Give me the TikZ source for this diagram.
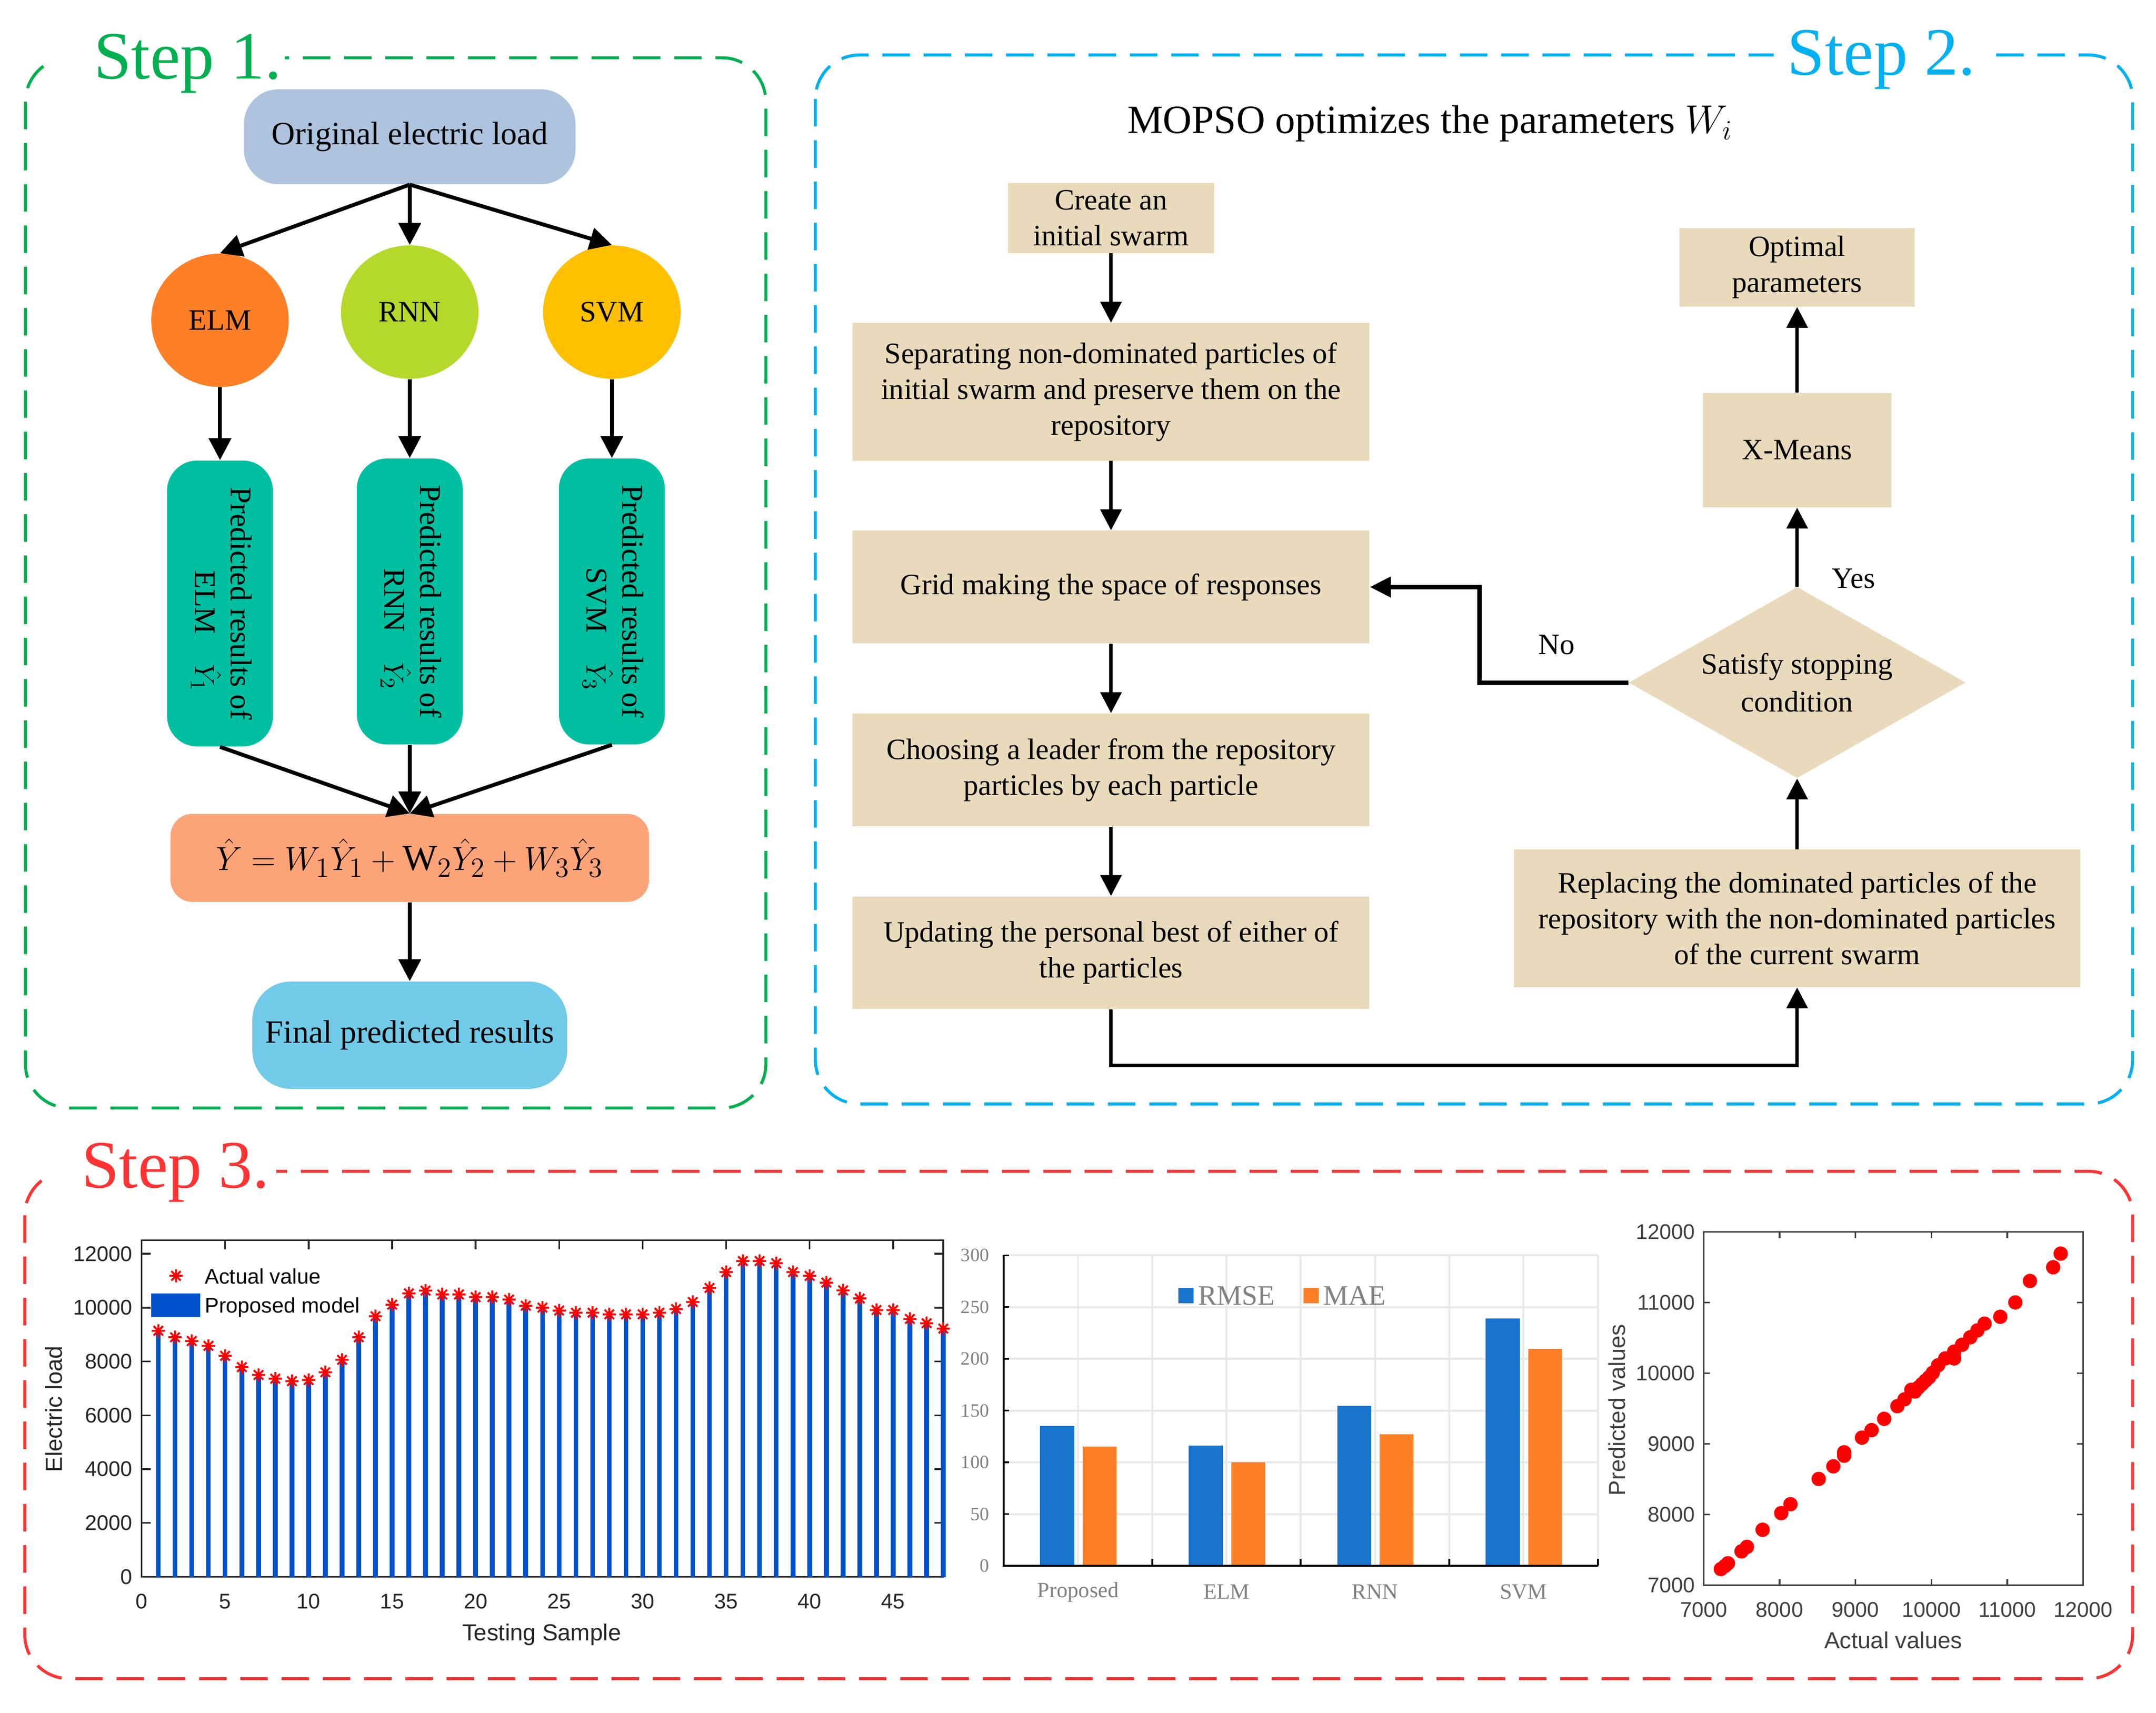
\documentclass[tikz,border=0pt]{standalone}
\usepackage{fontspec}
\setmainfont{Liberation Serif}
\newfontfamily\arialf{Liberation Sans}
\usetikzlibrary{arrows.meta,shapes.geometric}
\definecolor{gfr}{RGB}{0,176,80}
\definecolor{cfr}{RGB}{0,176,240}
\definecolor{rfr}{RGB}{255,51,51}
\definecolor{origc}{RGB}{173,195,222}
\definecolor{elmc}{RGB}{255,127,39}
\definecolor{rnnc}{RGB}{181,217,42}
\definecolor{svmc}{RGB}{255,192,0}
\definecolor{tealc}{RGB}{0,191,160}
\definecolor{salc}{RGB}{252,163,120}
\definecolor{finc}{RGB}{112,202,232}
\definecolor{beigec}{RGB}{232,218,187}
\definecolor{barblue}{RGB}{0,82,204}
\definecolor{rmsec}{RGB}{24,116,205}
\definecolor{maec}{RGB}{255,127,39}
\definecolor{gridc}{RGB}{232,232,232}
\definecolor{axgray}{RGB}{38,38,38}
\definecolor{axgraytwo}{RGB}{64,64,64}
\definecolor{lblgray}{RGB}{128,128,128}
\newcommand\fsbox{\fontsize{15.3}{18.5}\selectfont}
\newcommand\fsbig{\fontsize{16.8}{20}\selectfont}
\newcommand\fsttl{\fontsize{35}{40}\selectfont}
\newcommand\fsaxis{\arialf\fontsize{11}{13}\selectfont}
\newcommand\fsalab{\arialf\fontsize{12}{14}\selectfont}
\newcommand\fstimes{\fontsize{9.7}{11}\selectfont}
\newcommand\fscat{\fontsize{11.3}{13}\selectfont}
\newcommand\fsleg{\fontsize{14.6}{16}\selectfont}
\begin{document}
\begin{tikzpicture}[x=0.25mm, y=-0.25mm, font=\fsbox,
  frame/.style={line width=0.55mm, dash pattern=on 5mm off 2.5mm, rounded corners=8mm},
  arrone/.style={line width=0.7mm, -{Triangle[length=4mm,width=4mm]}},
  arrtwo/.style={line width=0.6mm, -{Triangle[length=3.8mm,width=3.8mm]}},
  arrthree/.style={line width=0.8mm, -{Triangle[length=3.8mm,width=3.6mm]}},
  pbox/.style={rectangle, fill=beigec, inner sep=0pt, align=center, font=\fsbox},
  ovalnode/.style={ellipse, inner sep=0pt, minimum width=25mm, minimum height=24.25mm, font=\fsbox},
  tealbox/.style={rectangle, rounded corners=5.5mm, fill=tealc, minimum width=19.25mm, minimum height=52mm, inner sep=0pt},
  rottext/.style={rotate=-90, align=center, inner sep=0pt, font=\fontsize{15.6}{18.5}\selectfont},
  ttl/.style={anchor=base west, inner sep=0pt, font=\fsttl},
  astar/.pic={\draw[red, line width=0.35mm] (-1.2mm,0) -- (1.2mm,0) (0,-1.2mm) -- (0,1.2mm) (-0.85mm,-0.85mm) -- (0.85mm,0.85mm) (-0.85mm,0.85mm) -- (0.85mm,-0.85mm);}
]
\fill[white] (0,0) rectangle (1568,1246);
\useasboundingbox (0,0) rectangle (1568,1246);

% ---------------- frames ----------------
\draw[frame, gfr] (18.5,42) rectangle (557,806);
\draw[frame, cfr] (593,40) rectangle (1551,803);
\draw[frame, rfr] (18,852) rectangle (1551,1221);
\fill[white] (40,30) rectangle (207,52);
\fill[white] (1290,28) rectangle (1448,50);
\fill[white] (36,840) rectangle (201,862);
\node[ttl, text=gfr] (s1) at (68,57.4) {Step 1.};
\node[ttl, text=cfr] (s2) at (1299.6,54.6) {Step 2.};
\node[ttl, text=rfr] (s3) at (59,863.8) {Step 3.};

% ---------------- Step 1 ----------------
\node[rectangle, rounded corners=6.25mm, fill=origc, minimum width=60.25mm, minimum height=17.25mm, inner sep=0pt, font=\fsbig] (orig) at (298,99.5) {Original electric load};
\node[ovalnode, fill=elmc] (elm) at (160,233) {ELM};
\node[ovalnode, fill=rnnc] (rnn) at (298,227) {RNN};
\node[ovalnode, fill=svmc] (svm) at (445,227) {SVM};
\node[tealbox] (ga) at (160,439) {};
\node[tealbox] (gb) at (298,437.5) {};
\node[tealbox] (gc) at (445,437.5) {};
\node[rottext] (gat) at (161,439) {Predicted results of\\\hspace*{10mm}ELM\quad$\hat{Y}_1$};
\node[rottext] (gbt) at (299,437.5) {Predicted results of\\\hspace*{10mm}RNN\quad$\hat{Y}_2$};
\node[rottext] (gct) at (446,437.5) {Predicted results of\\\hspace*{10mm}SVM\quad$\hat{Y}_3$};
\node[rectangle, rounded corners=4mm, fill=salc, minimum width=87mm, minimum height=16mm, inner sep=0pt, font=\fontsize{19}{22}\selectfont] (form) at (298,624) {$\hat{Y} = W_1\hat{Y}_1 + \mathrm{W}_2\hat{Y}_2 + W_3\hat{Y}_3$};
\node[rectangle, rounded corners=7mm, fill=finc, minimum width=57.25mm, minimum height=19.5mm, inner sep=0pt, font=\fsbig] (fin) at (298,753) {Final predicted results};

\draw[arrone] (orig.south) -- (elm.north);
\draw[arrone] (orig.south) -- (rnn.north);
\draw[arrone] (orig.south) -- (svm.north);
\draw[arrone] (elm.south) -- (ga.north);
\draw[arrone] (rnn.south) -- (gb.north);
\draw[arrone] (svm.south) -- (gc.north);
\draw[arrone] (ga.south) -- (form.north);
\draw[arrone] (gb.south) -- (form.north);
\draw[arrone] (gc.south) -- (form.north);
\draw[arrone] (form.south) -- (fin.north);

% ---------------- Step 2 ----------------
\node[anchor=base, inner sep=0pt, font=\fontsize{20.7}{24}\selectfont] (mop) at (1040,97) {MOPSO optimizes the parameters $W_i$};
\node[pbox, minimum width=37.5mm, minimum height=12.75mm] (create) at (808,158.5) {Create an\\initial swarm};
\node[pbox, minimum width=94mm, minimum height=25mm] (sep) at (808,285) {Separating non-dominated particles of\\initial swarm and preserve them on the\\repository};
\node[pbox, minimum width=94mm, minimum height=20.5mm] (grid) at (808,427) {Grid making the space of responses};
\node[pbox, minimum width=94mm, minimum height=20.5mm] (choose) at (808,560) {Choosing a leader from the repository\\particles by each particle};
\node[pbox, minimum width=94mm, minimum height=20.5mm] (update) at (808,693) {Updating the personal best of either of\\the particles};
\node[pbox, minimum width=103mm, minimum height=25mm] (replace) at (1307,668) {Replacing the dominated particles of the\\repository with the non-dominated particles\\of the current swarm};
\node[diamond, fill=beigec, aspect=1.76, minimum width=61.25mm, minimum height=34.75mm, inner sep=0pt, align=center, font=\fontsize{15.3}{19.5}\selectfont] (dia) at (1307,496.5) {Satisfy stopping\\condition};
\node[pbox, minimum width=34.25mm, minimum height=20.75mm] (xmeans) at (1307,327.5) {X-Means};
\node[pbox, minimum width=42.75mm, minimum height=14.25mm] (opt) at (1307,194.5) {Optimal\\parameters};
\coordinate (nocorner) at (1076,496.5);
\coordinate (botc) at (1000,775);
\draw[arrtwo] (create.south) -- (sep.north);
\draw[arrtwo] (sep.south) -- (grid.north);
\draw[arrtwo] (grid.south) -- (choose.north);
\draw[arrtwo] (choose.south) -- (update.north);
\draw[arrtwo] (update.south) |- (botc) -| (replace.south);
\draw[arrtwo] (replace.north) -- (dia.south);
\draw[arrtwo] (dia.north) -- (xmeans.south);
\draw[arrtwo] (xmeans.north) -- (opt.south);
\draw[arrthree] (dia.west) -- (nocorner) |- (grid.east);
\node (nolab) at (1132,469) {No};
\node (yeslab) at (1348,421) {Yes};

% ---------------- Step 3: chart 1 ----------------
\begin{scope}[shift={(103,1147)}, x=3.0365mm, y=4.896mm]
  \draw[axgray, line width=0.3mm] (0,0) rectangle (48,12.5);
  \foreach \t in {0,5,...,45} {
    \draw[axgray, line width=0.3mm] (\t,0) -- ++(0,1.6mm);
    \draw[axgray, line width=0.3mm] (\t,12.5) -- ++(0,-1.6mm);
    \node[font=\fsaxis, text=axgray, inner sep=0pt] at ([yshift=-4.5mm]\t,0) {\t};
  }
  \foreach \t in {0,2,...,12} {
    \pgfmathtruncatemacro\lab{\t*1000}
    \draw[axgray, line width=0.3mm] (0,\t) -- ++(1.6mm,0);
    \draw[axgray, line width=0.3mm] (48,\t) -- ++(-1.6mm,0);
    \node[font=\fsaxis, text=axgray, anchor=east, inner sep=0pt] at ([xshift=-1.6mm]0,\t) {\lab};
  }
  \foreach \v [count=\i] in {9.14,8.90,8.76,8.58,8.21,7.79,7.50,7.36,7.27,7.31,7.60,8.06,8.90,9.68,10.11,10.53,10.63,10.49,10.49,10.39,10.39,10.30,10.07,10.00,9.89,9.81,9.81,9.75,9.75,9.75,9.81,9.95,10.21,10.73,11.32,11.73,11.73,11.65,11.32,11.18,10.93,10.64,10.34,9.91,9.91,9.58,9.42,9.22} {
    \fill[barblue] (\i-0.14,0) rectangle (\i+0.14,\v);
  }
  \foreach \v [count=\i] in {9.14,8.90,8.76,8.58,8.21,7.79,7.50,7.36,7.27,7.31,7.60,8.06,8.90,9.68,10.11,10.53,10.63,10.49,10.49,10.39,10.39,10.30,10.07,10.00,9.89,9.81,9.81,9.75,9.75,9.75,9.81,9.95,10.21,10.73,11.32,11.73,11.73,11.65,11.32,11.18,10.93,10.64,10.34,9.91,9.91,9.58,9.42,9.22} {
    \pic at (\i,\v) {astar};
  }
\end{scope}
\pic at (128,928) {astar};
\fill[barblue] (110,941) rectangle (145.7,958);
\node[anchor=base west, inner sep=0pt, font=\fsaxis] (lega) at (148.7,934) {Actual value};
\node[anchor=base west, inner sep=0pt, font=\fsaxis] (legb) at (148.7,955) {Proposed model};
\node[rotate=90, font=\fsalab, text=axgray] (ylabA) at (39,1025) {Electric load};
\node[font=\fsalab, text=axgray] (xlabA) at (394,1189) {Testing Sample};

% ---------------- Step 3: chart 2 ----------------
\begin{scope}[shift={(730,1139)}, x=0.25mm, y=0.18825mm]
  \foreach \g in {50,100,...,300} {\draw[gridc, line width=0.35mm] (0,\g) -- (432,\g);}
  \foreach \g in {54,108,...,432} {\draw[gridc, line width=0.35mm] (\g,0) -- (\g,300);}
  \foreach \c/\r/\m in {54/135/115.4, 162/116.4/100.2, 270/154.8/127.3, 378/239.1/209.4} {
    \fill[rmsec] (\c-27.5,0) rectangle (\c-2.6,\r);
    \fill[maec] (\c+3.5,0) rectangle (\c+28,\m);
  }
  \draw[black, line width=0.35mm] (0,300) -- (0,0) -- (432,0);
  \foreach \g in {0,50,...,300} {
    \draw[black, line width=0.3mm] (0,\g) -- ++(1mm,0);
    \node[anchor=east, inner sep=0pt, text=lblgray, font=\fstimes] at ([xshift=-2.6mm]0,\g) {\g};
  }
  \foreach \g in {108,216,324,432} {\draw[black, line width=0.35mm] (\g,0) -- ++(0,1.3mm);}
  \foreach \c/\n in {54/Proposed, 162/ELM, 270/RNN, 378/SVM} {
    \node[inner sep=0pt, text=lblgray, font=\fscat] at ([yshift=-4.75mm]\c,0) {\n};
  }
\end{scope}
\fill[rmsec] (857,937) rectangle (868,948);
\node[anchor=west, inner sep=0pt, text=lblgray, font=\fsleg] (legr) at (871,942.5) {RMSE};
\fill[maec] (948,937) rectangle (959,948);
\node[anchor=west, inner sep=0pt, text=lblgray, font=\fsleg] (legm) at (962,942.5) {MAE};

% ---------------- Step 3: chart 3 ----------------
\begin{scope}[shift={(1239,1153)}, x=13.8mm, y=12.85mm]
  \draw[axgraytwo, line width=0.3mm] (0,0) rectangle (5,5);
  \foreach \t in {0,...,5} {
    \pgfmathtruncatemacro\lab{7000+\t*1000}
    \draw[axgraytwo, line width=0.3mm] (\t,0) -- ++(0,1.1mm);
    \draw[axgraytwo, line width=0.3mm] (\t,5) -- ++(0,-1.1mm);
    \draw[axgraytwo, line width=0.3mm] (0,\t) -- ++(1.1mm,0);
    \draw[axgraytwo, line width=0.3mm] (5,\t) -- ++(-1.1mm,0);
    \node[inner sep=0pt, text=axgraytwo, font=\fsaxis] at ([yshift=-4.5mm]\t,0) {\lab};
    \node[anchor=east, inner sep=0pt, text=axgraytwo, font=\fsaxis] at ([xshift=-1.5mm]0,\t) {\lab};
  }
  \foreach \p in {(0.226,0.227),(0.320,0.309),(0.280,0.270),(0.499,0.478),(0.570,0.541),(0.777,0.783),(1.022,1.019),(1.144,1.145),(1.516,1.502),(1.709,1.681),(1.851,1.831),(1.851,1.879),(2.086,2.087),(2.213,2.193),(2.378,2.353),(2.552,2.532),(2.646,2.628),(2.736,2.763),(2.783,2.739),(2.830,2.797),(2.877,2.845),(2.924,2.894),(2.971,2.942),(3.018,3.005),(3.089,3.111),(3.183,3.208),(3.300,3.208),(3.300,3.304),(3.404,3.401),(3.512,3.507),(3.606,3.604),(3.701,3.700),(3.908,3.797),(4.106,4.000),(4.299,4.304),(4.605,4.498),(4.704,4.691)} {
    \fill[red] \p circle (1.3mm);
  }
\end{scope}
\node[rotate=90, font=\fsalab, text=axgraytwo] (ylabC) at (1176,1025.6) {Predicted values};
\node[font=\fsalab, text=axgraytwo] (xlabC) at (1377,1193) {Actual values};
\end{tikzpicture}
\end{document}
